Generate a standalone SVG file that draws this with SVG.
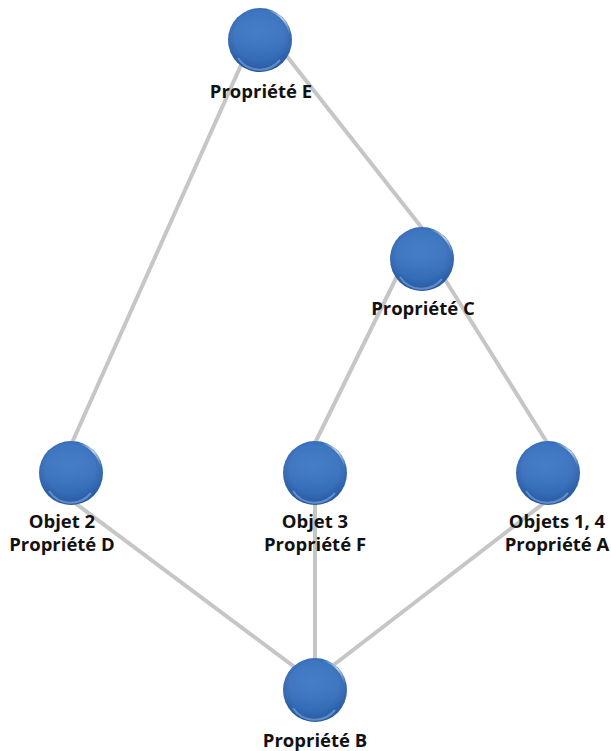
<svg xmlns="http://www.w3.org/2000/svg" width="611" height="751" viewBox="0 0 611 751">
  <style>
    .edge { stroke: #c6c6c6; stroke-width: 4; fill: none; stroke-linecap: butt; }
    .label { font-family: "Open Sans", "Liberation Sans", sans-serif; font-weight: bold; font-size: 18.5px; fill: #111111; text-anchor: middle; }
  </style>
  <defs>
    <!-- glossy blue ball -->
    <radialGradient id="ballFill" cx="0.5" cy="0.45" r="0.55" fx="0.45" fy="0.4">
      <stop offset="0" stop-color="#3f7bc8"/>
      <stop offset="0.7" stop-color="#3a73bf"/>
      <stop offset="1" stop-color="#2c5ea6"/>
    </radialGradient>
    <linearGradient id="ballShade" x1="0" y1="0" x2="0" y2="1">
      <stop offset="0" stop-color="#ffffff" stop-opacity="0"/>
      <stop offset="0.75" stop-color="#1f4f94" stop-opacity="0.15"/>
      <stop offset="1" stop-color="#1f4f94" stop-opacity="0.35"/>
    </linearGradient>
    <linearGradient id="rimLight" x1="0" y1="0" x2="1" y2="1">
      <stop offset="0" stop-color="#ffffff" stop-opacity="0"/>
      <stop offset="0.5" stop-color="#ffffff" stop-opacity="0.7"/>
      <stop offset="1" stop-color="#ffffff" stop-opacity="0"/>
    </linearGradient>
    <g id="ball">
      <circle r="32" fill="url(#ballFill)"/>
      <circle r="32" fill="url(#ballShade)"/>
      <path d="M 8 -30 A 31 31 0 0 1 30 -6" stroke="url(#rimLight)" stroke-width="2" fill="none"/>
      <path d="M -22 18 A 26 26 0 0 0 20 20" stroke="#8fb3e6" stroke-opacity="0.55" stroke-width="2" fill="none"/>
    </g>
  </defs>

  <rect width="611" height="751" fill="#ffffff"/>

  <g id="connectors">
    <line class="edge" x1="250" y1="45" x2="71" y2="445"/>
    <line class="edge" x1="278" y1="45" x2="422" y2="228"/>
    <line class="edge" x1="404" y1="262" x2="314" y2="445"/>
    <line class="edge" x1="434" y1="262" x2="548" y2="444"/>
    <line class="edge" x1="71" y1="500" x2="312" y2="680"/>
    <line class="edge" x1="315" y1="500" x2="315" y2="680"/>
    <line class="edge" x1="548" y1="500" x2="318" y2="677"/>
  </g>

  <g id="node-E">
    <use href="#ball" x="260" y="40"/>
    <text class="label" x="261" y="98">Propriété E</text>
  </g>
  <g id="node-C">
    <use href="#ball" x="422" y="259"/>
    <text class="label" x="423" y="315">Propriété C</text>
  </g>
  <g id="node-D">
    <use href="#ball" x="71" y="473"/>
    <text class="label" x="62" y="528">Objet 2</text>
    <text class="label" x="62" y="551">Propriété D</text>
  </g>
  <g id="node-F">
    <use href="#ball" x="315" y="473"/>
    <text class="label" x="315" y="528">Objet 3</text>
    <text class="label" x="315" y="551">Propriété F</text>
  </g>
  <g id="node-A">
    <use href="#ball" x="548" y="473"/>
    <text class="label" x="557" y="528">Objets 1, 4</text>
    <text class="label" x="557" y="551">Propriété A</text>
  </g>
  <g id="node-B">
    <use href="#ball" x="315" y="690"/>
    <text class="label" x="315" y="747">Propriété B</text>
  </g>
</svg>
